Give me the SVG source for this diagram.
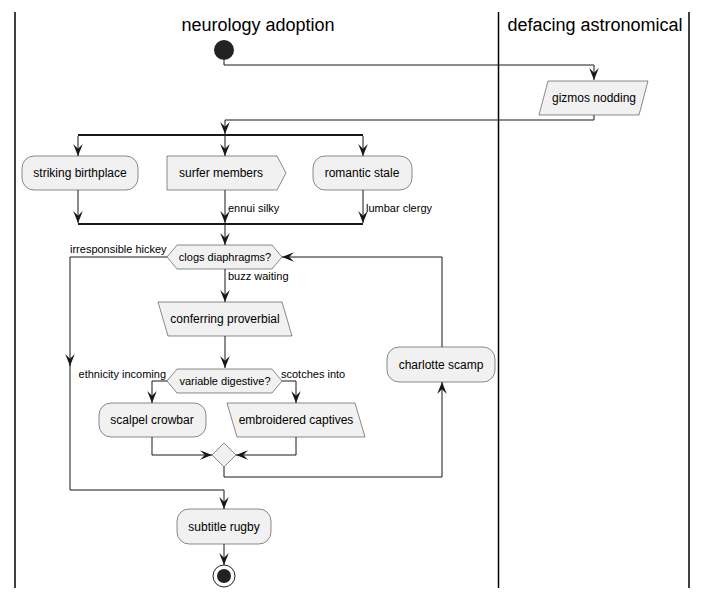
<svg xmlns="http://www.w3.org/2000/svg" width="706" height="597" viewBox="0 0 706 597">
<style>
.lane{stroke:#000;stroke-width:1.5;fill:none}
.title{font-family:"Liberation Sans",Arial,sans-serif;font-size:18px;fill:#000;text-anchor:middle}
.node{fill:#F1F1F1;stroke:#181818;stroke-width:0.5}
.t{font-family:"Liberation Sans",Arial,sans-serif;font-size:12px;fill:#000;text-anchor:middle}
.lbl{font-family:"Liberation Sans",Arial,sans-serif;font-size:11px;fill:#000}
.c{fill:none;stroke:#181818;stroke-width:1}
.arr{marker-end:url(#ah)}
</style>
<defs>
<marker id="ah" markerUnits="userSpaceOnUse" markerWidth="12" markerHeight="12" viewBox="0 0 10 10" refX="10" refY="5" orient="auto">
<path d="M0,1 L10,5 L0,9 L4,5 Z" fill="#181818"/>
</marker>
</defs>
<g id="lanes">
<line class="lane" x1="15" y1="12" x2="15" y2="588"/>
<line class="lane" x1="498.5" y1="12" x2="498.5" y2="588"/>
<line class="lane" x1="689" y1="12" x2="689" y2="588"/>
<text class="title" x="258" y="31">neurology adoption</text>
<text class="title" x="595" y="31">defacing astronomical</text>
</g>
<g id="connectors">
<path class="c arr" d="M224,60 V65 H594 V80"/>
<path class="c arr" d="M594,115 V120 H225 V134"/>
<path class="c arr" d="M78,136 V156"/>
<path class="c arr" d="M225,136 V156"/>
<path class="c arr" d="M363,136 V156"/>
<path class="c arr" d="M78,190 V223"/>
<path class="c arr" d="M225,190 V223"/>
<path class="c arr" d="M363,190 V223"/>
<path class="c arr" d="M225,225 V245"/>
<path class="c arr" d="M225,269 V302"/>
<path class="c arr" d="M225,336 V368"/>
<path class="c arr" d="M167,381 H152 V403"/>
<path class="c arr" d="M282,381 H296 V403"/>
<path class="c arr" d="M152,437 V455 H212"/>
<path class="c arr" d="M296,437 V455 H236"/>
<path class="c arr" d="M224,467 V477 H442 V382"/>
<path class="c arr" d="M442,347 V257 H282"/>
<path class="c arr" d="M167,257 H70 V366"/>
<path class="c arr" d="M70,360 V490 H224 V509"/>
<path class="c arr" d="M224,544 V565"/>
<text class="lbl" x="228" y="212">ennui silky</text>
<text class="lbl" x="366" y="212">lumbar clergy</text>
<text class="lbl" x="70" y="253">irresponsible hickey</text>
<text class="lbl" x="228" y="280">buzz waiting</text>
<text class="lbl" x="166" y="378" text-anchor="end">ethnicity incoming</text>
<text class="lbl" x="281" y="378">scotches into</text>
</g>
<g id="start"><circle cx="224" cy="50" r="10" fill="#222"/></g>
<g id="gizmos_nodding">
<polygon class="node" points="548,81 648,81 639,115 539,115"/>
<text class="t" x="594" y="102">gizmos nodding</text>
</g>
<g id="fork"><rect x="78" y="134" width="285" height="2" fill="#181818"/></g>
<g id="striking_birthplace">
<rect class="node" x="22" y="156" width="116" height="34" rx="12"/>
<text class="t" x="80" y="177">striking birthplace</text>
</g>
<g id="surfer_members">
<polygon class="node" points="167,156 277,156 286,173 277,190 167,190"/>
<text class="t" x="221" y="177">surfer members</text>
</g>
<g id="romantic_stale">
<rect class="node" x="313" y="156" width="99" height="34" rx="12"/>
<text class="t" x="362" y="177">romantic stale</text>
</g>
<g id="join"><rect x="78" y="223" width="285" height="2" fill="#181818"/></g>
<g id="clogs_diaphragms">
<polygon class="node" points="167,257 177,245 272,245 282,257 272,269 177,269"/>
<text class="t" x="225" y="261" style="font-size:11px">clogs diaphragms?</text>
</g>
<g id="conferring_proverbial">
<polygon class="node" points="158,302 282,302 292,336 168,336"/>
<text class="t" x="225" y="323">conferring proverbial</text>
</g>
<g id="variable_digestive">
<polygon class="node" points="167,381 177,369 272,369 282,381 272,393 177,393"/>
<text class="t" x="225" y="385" style="font-size:11px">variable digestive?</text>
</g>
<g id="scalpel_crowbar">
<rect class="node" x="99" y="403" width="107" height="34" rx="12"/>
<text class="t" x="152" y="424">scalpel crowbar</text>
</g>
<g id="embroidered_captives">
<polygon class="node" points="227,403 355,403 365,437 237,437"/>
<text class="t" x="296" y="424">embroidered captives</text>
</g>
<g id="merge">
<polygon class="node" points="224,443 236,455 224,467 212,455"/>
</g>
<g id="charlotte_scamp">
<rect class="node" x="387" y="347" width="108" height="35" rx="12"/>
<text class="t" x="441" y="369">charlotte scamp</text>
</g>
<g id="subtitle_rugby">
<rect class="node" x="177" y="509" width="94" height="35" rx="12"/>
<text class="t" x="224" y="531">subtitle rugby</text>
</g>
<g id="end">
<circle cx="224" cy="576" r="11" fill="none" stroke="#222" stroke-width="1"/>
<circle cx="224" cy="576" r="7" fill="#222"/>
</g>
</svg>
